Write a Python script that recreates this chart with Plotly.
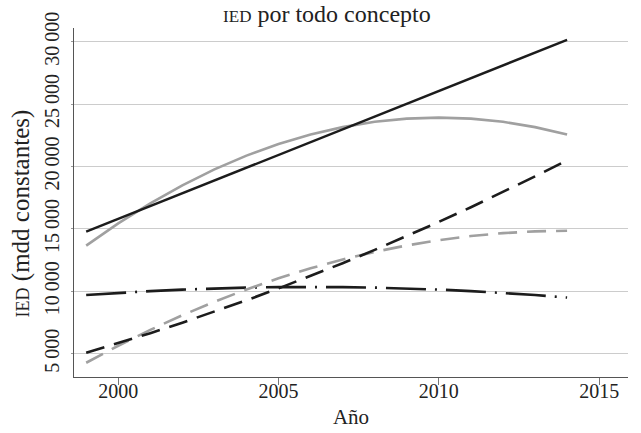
import plotly.graph_objects as go

years = list(range(1999, 2015))

# Black solid (linear trend)
ied_lineal = [14780, 15805, 16830, 17855, 18880, 19900, 20925, 21950,
              22975, 24000, 25025, 26050, 27075, 28100, 29125, 30150]
# Gray solid (quadratic trend)
ied_cuad = [13660, 15440, 17050, 18495, 19765, 20870, 21800, 22565,
            23155, 23580, 23835, 23920, 23835, 23580, 23155, 22565]
# Black dashed
serie_b = [5080, 5845, 6647, 7487, 8364, 9279, 10232, 11222,
           12250, 13316, 14419, 15560, 16738, 17954, 19208, 20500]
# Gray dashed
serie_b_cuad = [4275, 5638, 6907, 8082, 9163, 10150, 11043, 11842,
                12547, 13158, 13675, 14098, 14427, 14662, 14803, 14850]
# Black dash-dot
serie_c = [9698, 9871, 10017, 10137, 10230, 10297, 10337, 10350,
           10337, 10297, 10230, 10137, 10017, 9871, 9698, 9500]

x_ticks = [2000, 2005, 2010, 2015]
y_ticks = [5000, 10000, 15000, 20000, 25000, 30000]
y_labels = ["5\u2009000", "10\u2009000", "15\u2009000", "20\u2009000", "25\u2009000", "30\u2009000"]

BLACK = "#1c1c1c"
GRAY = "#a0a0a0"
FONT = "Liberation Serif"
TXT = "#222"

fig = go.Figure()
fig.add_trace(go.Scatter(x=years, y=serie_c, mode="lines",
                         line=dict(color=BLACK, width=2.6, dash="40px,9px,2px,9px")))
fig.add_trace(go.Scatter(x=years, y=serie_b_cuad, mode="lines",
                         line=dict(color=GRAY, width=2.6, dash="19px,10px")))
fig.add_trace(go.Scatter(x=years, y=serie_b, mode="lines",
                         line=dict(color=BLACK, width=2.6, dash="19px,10px")))
fig.add_trace(go.Scatter(x=years, y=ied_cuad, mode="lines",
                         line=dict(color=GRAY, width=2.6)))
fig.add_trace(go.Scatter(x=years, y=ied_lineal, mode="lines",
                         line=dict(color=BLACK, width=2.4)))

fig.update_layout(
    width=641, height=433,
    margin=dict(l=74, r=13, t=28, b=56),
    paper_bgcolor="white", plot_bgcolor="white",
    showlegend=False,
    font=dict(family=FONT, size=20, color=TXT),
    title=dict(text="<span style='font-size:17px'>IED</span> por todo concepto",
               x=0.51, xanchor="center", y=0.968, yanchor="middle",
               font=dict(family=FONT, size=24, color=TXT)),
    xaxis=dict(range=[1998.62, 2015.9], tickvals=x_ticks,
               showgrid=False, zeroline=False, automargin=False,
               showline=True, linecolor="#555", linewidth=1.2,
               ticks="outside", ticklen=7, tickcolor="#777", tickwidth=1,
               ticklabelstandoff=-11,
               tickfont=dict(family=FONT, size=20, color=TXT),
               title=dict(text="Año", standoff=8,
                          font=dict(family=FONT, size=21, color=TXT))),
    yaxis=dict(range=[3133, 31098], tickvals=y_ticks, ticktext=y_labels,
               tickangle=-90, automargin=False,
               showgrid=True, gridcolor="#cccccc", gridwidth=1,
               zeroline=False,
               showline=True, linecolor="#555", linewidth=1.2,
               ticks="outside", ticklen=2, tickcolor="#999", tickwidth=1,
               ticklabelstandoff=4,
               tickfont=dict(family=FONT, size=20, color=TXT)),
    annotations=[dict(
        text="<span style='font-size:18px'>IED</span> (mdd constantes)",
        textangle=-90, xref="paper", yref="paper",
        x=-0.094, y=0.4685, xanchor="center", yanchor="middle",
        showarrow=False, font=dict(family=FONT, size=25, color=TXT))],
)

fig.write_html("out.html", config={"displayModeBar": False},
               post_script="document.body.style.margin='0';")
